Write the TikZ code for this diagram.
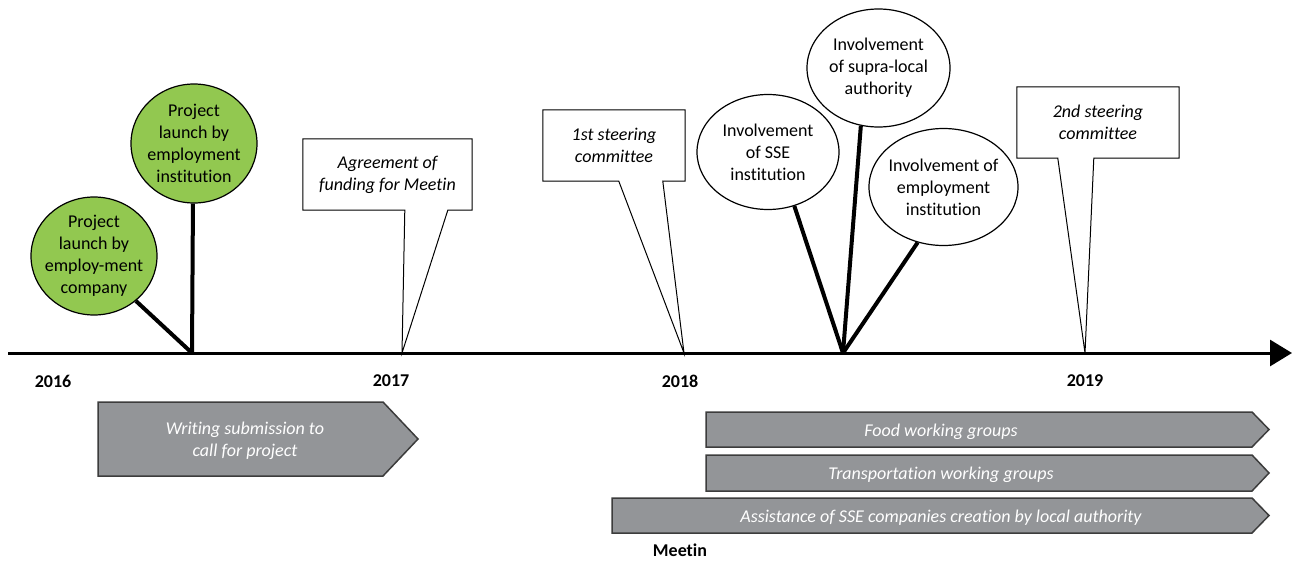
\documentclass[tikz,border=0pt]{standalone}
\usepackage{fontspec}
\setmainfont{Carlito}[Ligatures=NoCommon]
\usetikzlibrary{shapes.geometric,arrows.meta,calc,backgrounds}
\definecolor{leaf}{RGB}{146,200,80}
\definecolor{barfill}{RGB}{147,149,152}
\definecolor{barline}{RGB}{60,60,60}
\begin{document}
\begin{tikzpicture}[x=1pt,y=-1pt,
  font=\fontsize{18}{22}\selectfont,
  bubble/.style={ellipse, draw, line width=1.2pt, inner xsep=-14pt, inner ysep=-14pt, align=center},
  greenbubble/.style={bubble, fill=leaf},
  stem/.style={line width=4pt},
  callout/.style={draw, line width=1pt, fill=white, line join=miter},
  calltext/.style={align=center, font=\fontsize{18}{22}\selectfont\itshape, inner sep=0pt, minimum height=71pt},
  bar/.style={fill=barfill, draw=barline, line width=1.5pt},
  bartext/.style={align=center, text=white, font=\fontsize{18}{22}\selectfont\itshape},
  year/.style={font=\fontsize{18}{22}\selectfont\bfseries}]
\useasboundingbox (0,0) rectangle (1293,562);

% timeline
\coordinate (axs) at (8,353);
\coordinate (axe) at (1292,353);
\coordinate (t16) at (192,353);
\coordinate (t17) at (402,353);
\coordinate (t18) at (684,353);
\coordinate (tinv) at (843,353);
\coordinate (t19) at (1085,353);
\draw[line width=3pt, -{Triangle[length=22pt,width=26pt]}] (axs) -- (axe);

% years
\node[year] (y16) at (53,381) {2016};
\node[year] (y17) at (391,381) {2017};
\node[year] (y18) at (680,381) {2018};
\node[year] (y19) at (1085,381) {2019};

% green bubbles
\node[greenbubble, minimum width=126pt, minimum height=118pt] (g1) at (94,256) {Project\\launch by\\employ-ment\\company};
\node[greenbubble, minimum width=126pt, minimum height=119pt] (g2) at (194,143.5) {Project\\launch by\\employment\\institution};
\draw[stem] (g1.313) -- (t16);
\draw[stem] (g2.269) -- (t16);

% involvement bubbles
\node[bubble, minimum width=142pt, minimum height=115pt] (e1) at (768,152) {Involvement\\of SSE\\institution};
\node[bubble, minimum width=143pt, minimum height=118pt] (e2) at (878.5,68) {Involvement\\of supra-local\\authority};
\node[bubble, minimum width=149pt, minimum height=117pt] (e3) at (943.5,187) {Involvement of\\employment\\institution};
\draw[stem] (e1.296) -- (tinv);
\draw[stem] (e2.253) -- (tinv);
\draw[stem] (e3.245) -- (tinv);

% callouts
\node[calltext, minimum width=169pt] (agr) at (387.5,174.5) {Agreement of\\funding for Meetin};
\node[calltext, minimum width=142pt] (sc1) at (614,145.5) {1st steering\\committee};
\node[calltext, minimum width=162pt] (sc2) at (1098,122.5) {2nd steering\\committee};

% bar labels
\node[bartext] (wr) at (245,440.5) {Writing submission to\\call for project};
\node[bartext] (fo) at (941,431.5) {Food working groups};
\node[bartext] (tr) at (941,474.5) {Transportation working groups};
\node[bartext] (as) at (941,517.5) {Assistance of SSE companies creation by local authority};

\node[font=\fontsize{18}{22}\selectfont\bfseries] (me) at (680,550) {Meetin};

\begin{scope}[on background layer]
\draw[callout] (agr.north west) -- (agr.north east) -- (agr.south east) -- ([xshift=145pt]agr.south west) -- (t17) -- ([xshift=102pt]agr.south west) -- (agr.south west) -- cycle;
\draw[callout] (sc1.north west) -- (sc1.north east) -- (sc1.south east) -- ([xshift=120pt]sc1.south west) -- (t18) -- ([xshift=76pt]sc1.south west) -- (sc1.south west) -- cycle;
\draw[callout] (sc2.north west) -- (sc2.north east) -- (sc2.south east) -- ([xshift=77pt]sc2.south west) -- (t19) -- ([xshift=41pt]sc2.south west) -- (sc2.south west) -- cycle;

\draw[bar] (98,402) -- (383,402) -- (418,439) -- (383,476) -- (98,476) -- cycle;
\draw[bar] (706,412) -- (1252,412) -- (1269,429.5) -- (1252,447) -- (706,447) -- cycle;
\draw[bar] (706,455) -- (1252,455) -- (1269,473) -- (1252,491) -- (706,491) -- cycle;
\draw[bar] (612,498) -- (1252,498) -- (1269,515.5) -- (1252,533) -- (612,533) -- cycle;
\end{scope}
\end{tikzpicture}
\end{document}
